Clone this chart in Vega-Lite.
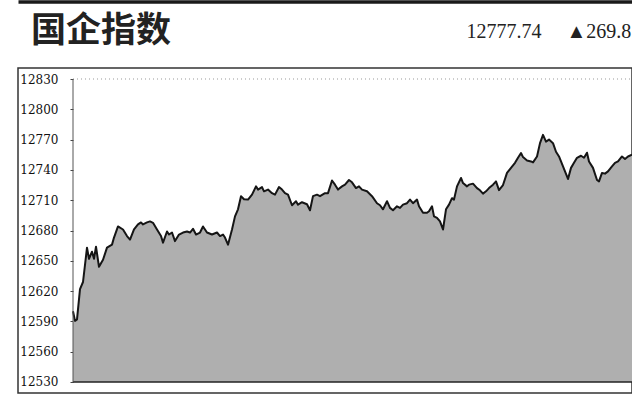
{
  "$schema": "https://vega.github.io/schema/vega-lite/v6.json",
  "width": 614,
  "height": 325,
  "autosize": {"type": "none"},
  "padding": {"left": 18, "top": 68, "right": 0, "bottom": 17},
  "background": "white",
  "config": {
    "view": {"stroke": "#333333", "strokeWidth": 1.5},
    "axisY": {"labelOverlap": false}
  },
  "title": {
    "text": "国企指数",
    "anchor": "start",
    "frame": "group",
    "dx": 13,
    "offset": 0,
    "dy": 75,
    "baseline": "alphabetic",
    "font": "Noto Sans CJK SC",
    "fontSize": 35,
    "fontWeight": "bold",
    "color": "#222222"
  },
  "datasets": {
    "hsce": [
      {"t":0,"v":12600},{"t":2,"v":12590.5},{"t":4,"v":12592},{"t":7,"v":12622},{"t":10,"v":12629},
      {"t":14,"v":12663},{"t":16,"v":12652},{"t":19,"v":12659},{"t":21,"v":12652},{"t":23,"v":12664},
      {"t":26,"v":12644},{"t":30,"v":12651},{"t":34,"v":12663},{"t":39,"v":12666},{"t":41,"v":12673},
      {"t":45,"v":12684},{"t":50,"v":12681},{"t":54,"v":12674.5},{"t":57,"v":12671},{"t":61,"v":12681},
      {"t":65,"v":12686},{"t":68,"v":12688},{"t":70,"v":12686},{"t":74,"v":12688},{"t":77,"v":12689},
      {"t":80,"v":12687.6},{"t":84,"v":12681},{"t":88,"v":12674.5},{"t":90,"v":12668},{"t":94,"v":12679},
      {"t":96,"v":12676},{"t":99,"v":12678},{"t":102,"v":12669.5},{"t":106,"v":12676},{"t":110,"v":12678},
      {"t":114,"v":12679},{"t":117,"v":12678},{"t":120,"v":12681.7},{"t":123,"v":12676},{"t":127,"v":12678},
      {"t":130,"v":12684},{"t":134,"v":12678},{"t":139,"v":12676},{"t":144,"v":12678},{"t":147,"v":12674.5},
      {"t":150,"v":12676},{"t":152,"v":12673},{"t":155,"v":12666},{"t":159,"v":12681},{"t":162,"v":12694},
      {"t":165,"v":12701},{"t":168,"v":12714},{"t":171,"v":12711},{"t":175,"v":12710.6},{"t":179,"v":12715.5},
      {"t":183,"v":12723.7},{"t":185,"v":12720.5},{"t":189,"v":12723},{"t":191,"v":12718.8},{"t":195,"v":12720.5},
      {"t":199,"v":12717},{"t":202,"v":12715.5},{"t":206,"v":12723},{"t":209,"v":12720.5},{"t":212,"v":12717},
      {"t":215,"v":12715.5},{"t":219,"v":12705},{"t":223,"v":12709},{"t":225,"v":12705.6},{"t":229,"v":12708},
      {"t":234,"v":12706},{"t":237,"v":12700},{"t":240,"v":12714},{"t":244,"v":12715.5},{"t":247,"v":12714},
      {"t":252,"v":12717},{"t":255,"v":12717},{"t":259,"v":12729.5},{"t":262,"v":12725.4},{"t":265,"v":12720.5},
      {"t":269,"v":12723.7},{"t":272,"v":12725.4},{"t":276,"v":12730},{"t":279,"v":12727.7},{"t":283,"v":12722},
      {"t":286,"v":12723.7},{"t":289,"v":12720.5},{"t":294,"v":12718.8},{"t":299,"v":12714},{"t":304,"v":12707},
      {"t":307,"v":12705},{"t":310,"v":12701},{"t":314,"v":12709},{"t":317,"v":12702.4},{"t":320,"v":12700},
      {"t":324,"v":12704},{"t":327,"v":12702.4},{"t":330,"v":12705.6},{"t":334,"v":12707},{"t":337,"v":12710.6},
      {"t":340,"v":12707},{"t":344,"v":12710.6},{"t":346,"v":12704},{"t":350,"v":12697.5},{"t":354,"v":12697.5},
      {"t":356,"v":12699},{"t":359,"v":12704},{"t":361,"v":12694},{"t":364,"v":12692.5},{"t":367,"v":12689},
      {"t":370,"v":12681},{"t":373,"v":12701},{"t":376,"v":12705.6},{"t":379,"v":12712},{"t":381,"v":12710.6},
      {"t":384,"v":12723.7},{"t":388,"v":12732},{"t":390,"v":12727},{"t":394,"v":12723.7},{"t":396,"v":12725.4},
      {"t":400,"v":12726.4},{"t":404,"v":12722},{"t":407,"v":12719.8},{"t":410,"v":12716.5},{"t":413,"v":12718.8},
      {"t":416,"v":12722},{"t":420,"v":12725.4},{"t":423,"v":12728.6},{"t":426,"v":12720},{"t":430,"v":12725},
      {"t":434,"v":12737},{"t":438,"v":12742},{"t":442,"v":12747},{"t":445,"v":12752},{"t":448,"v":12756.7},
      {"t":450,"v":12752.7},{"t":454,"v":12749.4},{"t":458,"v":12748.4},{"t":460,"v":12747.4},{"t":464,"v":12753.3},
      {"t":467,"v":12766.5},{"t":470,"v":12774.7},{"t":473,"v":12768},{"t":476,"v":12770},{"t":480,"v":12766.5},
      {"t":483,"v":12758},{"t":486,"v":12753.3},{"t":490,"v":12743.5},{"t":494,"v":12733.6},{"t":495,"v":12731},
      {"t":498,"v":12742},{"t":501,"v":12747},{"t":504,"v":12752},{"t":508,"v":12754},{"t":511,"v":12752},
      {"t":514,"v":12757},{"t":516,"v":12748.4},{"t":520,"v":12742},{"t":524,"v":12730},{"t":526,"v":12728.6},
      {"t":529,"v":12737},{"t":532,"v":12736.3},{"t":535,"v":12738.5},{"t":539,"v":12743.5},{"t":542,"v":12747},
      {"t":545,"v":12748.4},{"t":549,"v":12753.3},{"t":552,"v":12750.8},{"t":555,"v":12753.3},{"t":559,"v":12755}
    ],
    "one": [{}]
  },
  "layer": [
    {
      "data": {"name": "hsce"},
      "encoding": {
        "x": {
          "field": "t", "type": "quantitative",
          "scale": {"domain": [-55, 559], "nice": false, "zero": false},
          "axis": {
            "orient": "top", "offset": 66.5, "domain": true, "domainWidth": 3.5, "domainColor": "#1a1a1a",
            "ticks": false, "labels": false, "grid": false,
            "title": "12777.74\u2003 ▲269.8",
            "titleFont": "Liberation Serif", "titleFontSize": 20, "titleFontWeight": "normal",
            "titleColor": "#222222", "titleX": 448, "titleY": 35.8, "titleAlign": "left",
            "titleAnchor": "start", "titleBaseline": "alphabetic", "titleAngle": 0
          }
        },
        "y": {
          "field": "v", "type": "quantitative",
          "scale": {"domain": [12519.1, 12840.9], "nice": false, "zero": false},
          "axis": {
            "orient": "left", "offset": -55,
            "values": [12530, 12560, 12590, 12620, 12650, 12680, 12710, 12740, 12770, 12800, 12830],
            "tickCount": 12,
            "format": "d",
            "domain": false, "ticks": true, "tickSize": 3, "tickColor": "#444444", "tickWidth": 1,
            "labelFont": "DejaVu Serif", "labelFontSize": 12, "labelColor": "#111111",
            "labelPadding": 12, "labelOverlap": false, "labelBaseline": "middle",
            "grid": false, "title": null
          }
        }
      },
      "layer": [
        {
          "mark": {"type": "area", "color": "#afafaf", "opacity": 1},
          "encoding": {"y2": {"datum": 12530}}
        },
        {
          "mark": {"type": "line", "color": "#151515", "strokeWidth": 2, "strokeJoin": "round"},
          "encoding": {}
        }
      ]
    },
    {
      "data": {"name": "one"},
      "mark": {"type": "rule", "color": "#222222", "strokeWidth": 1.5},
      "encoding": {"x": {"datum": 0}, "x2": {"datum": 559}, "y": {"datum": 12530}}
    },
    {
      "data": {"name": "one"},
      "mark": {"type": "rule", "color": "#999999", "strokeWidth": 1, "strokeDash": [1, 3]},
      "encoding": {"x": {"datum": 0}, "x2": {"datum": 559}, "y": {"datum": 12830}}
    },
    {
      "data": {"name": "one"},
      "mark": {"type": "rule", "color": "#555555", "strokeWidth": 1},
      "encoding": {"x": {"datum": 0}, "y": {"datum": 12530}, "y2": {"datum": 12830}}
    }
  ]
}
